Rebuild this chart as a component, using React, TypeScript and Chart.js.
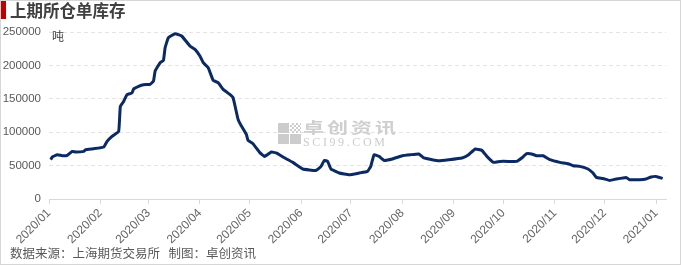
import React, { useEffect, useRef } from "react";
import { Chart, registerables } from "chart.js";

Chart.register(...registerables);

// Trading dates
const dates = [
  "2020-01-02", "2020-01-03", "2020-01-06", "2020-01-09", "2020-01-12", "2020-01-15", "2020-01-17",
  "2020-01-22", "2020-01-23", "2020-01-28", "2020-02-03", "2020-02-05", "2020-02-08", "2020-02-12",
  "2020-02-13", "2020-02-15", "2020-02-17", "2020-02-20", "2020-02-21", "2020-02-24", "2020-02-27",
  "2020-03-02", "2020-03-04", "2020-03-05", "2020-03-08", "2020-03-10", "2020-03-11", "2020-03-13",
  "2020-03-17", "2020-03-21", "2020-03-26", "2020-03-29", "2020-04-01", "2020-04-03", "2020-04-06",
  "2020-04-09", "2020-04-12", "2020-04-15", "2020-04-19", "2020-04-21", "2020-04-24", "2020-04-26",
  "2020-04-29", "2020-04-30", "2020-05-03", "2020-05-07", "2020-05-10", "2020-05-14", "2020-05-17",
  "2020-05-21", "2020-05-27", "2020-06-02", "2020-06-10", "2020-06-13", "2020-06-15", "2020-06-17",
  "2020-06-19", "2020-06-24", "2020-06-30", "2020-07-06", "2020-07-11", "2020-07-13", "2020-07-15",
  "2020-07-18", "2020-07-21", "2020-07-26", "2020-08-01", "2020-08-06", "2020-08-11", "2020-08-14",
  "2020-08-19", "2020-08-23", "2020-08-29", "2020-09-06", "2020-09-10", "2020-09-14", "2020-09-18",
  "2020-09-21", "2020-09-25", "2020-09-29", "2020-10-05", "2020-10-09", "2020-10-12", "2020-10-15",
  "2020-10-18", "2020-10-21", "2020-10-25", "2020-10-29", "2020-11-04", "2020-11-09", "2020-11-12",
  "2020-11-16", "2020-11-21", "2020-11-24", "2020-11-26", "2020-11-30", "2020-12-04", "2020-12-08",
  "2020-12-14", "2020-12-16", "2020-12-22", "2020-12-26", "2020-12-29", "2021-01-01", "2021-01-05",
];

// Warehouse receipt stock, tonnes
const stock = [
  59000, 62900, 66300, 64800, 65300, 71300, 70400,
  71300, 73800, 75300, 77800, 86200, 93700, 101200,
  138600, 146100, 156100, 158700, 164700, 168600, 171100,
  171600, 176600, 191600, 204000, 207500, 226500, 241500,
  247400, 244000, 229000, 224000, 214100, 204000, 196500,
  177500, 174100, 164100, 156600, 151600, 119200, 109300,
  96700, 87700, 82800, 69800, 63800, 70400, 68900,
  62900, 54800, 44900, 42800, 48800, 57800, 56300,
  44900, 38900, 36400, 38900, 41300, 48800, 66300,
  63800, 57800, 59900, 64800, 66300, 67400, 61400,
  58800, 57300, 58800, 61400, 66300, 74900, 72800,
  63800, 54800, 56300, 56300, 56300, 61400, 67800,
  67400, 64800, 64800, 58800, 54800, 52800, 49800,
  48800, 44900, 38900, 32300, 30800, 27800, 29900,
  32300, 28900, 28900, 29900, 32900, 33800, 30800,
];

const xTickLabels = [
  "2020/01", "2020/02", "2020/03", "2020/04", "2020/05", "2020/06", "2020/07",
  "2020/08", "2020/09", "2020/10", "2020/11", "2020/12", "2021/01",
];

const yTicks = [0, 50000, 100000, 150000, 200000, 250000];

const title = "上期所仓单库存";
const unit = "吨";
const footer = "数据来源：上海期货交易所   制图：卓创资讯";
const watermarkCn = "卓创资讯";
const watermarkEn = "SCI99.COM";

const BASE = Date.UTC(2020, 0, 1);
const dayOf = (s: string) => {
  const [y, m, d] = s.split(/[-/]/).map(Number);
  return (Date.UTC(y, m - 1, d || 1) - BASE) / 86400000;
};

export default function App() {
  const ref = useRef<HTMLCanvasElement | null>(null);

  useEffect(() => {
    document.body.style.margin = "0";
    const canvas = ref.current;
    if (!canvas) return;
    const tickDays = xTickLabels.map(dayOf);
    const labelFor: Record<number, string> = {};
    tickDays.forEach((d, i) => (labelFor[d] = xTickLabels[i]));
    const points = dates.map((d, i) => ({ x: dayOf(d), y: stock[i] }));

    const chart = new Chart(canvas, {
      type: "line",
      data: {
        datasets: [
          {
            data: points,
            borderColor: "#0b2a64",
            borderWidth: 3,
            pointRadius: 0,
            tension: 0.1,
            fill: false,
          },
        ],
      },
      options: {
        animation: false,
        responsive: false,
        parsing: false,
        layout: { padding: { top: 32, right: 15, left: 0, bottom: 0 } },
        plugins: {
          legend: { display: false },
          tooltip: { enabled: false },
          title: { display: false },
        },
        scales: {
          x: {
            type: "linear",
            min: 0,
            max: 372,
            afterFit: (s: any) => {
              s.height = 66;
            },
            afterBuildTicks: (s: any) => {
              s.ticks = tickDays.map((v) => ({ value: v }));
            },
            grid: {
              drawOnChartArea: false,
              drawTicks: true,
              tickLength: 5,
              color: "#d9d9d9",
            },
            border: { display: true, color: "#d9d9d9", width: 1 },
            ticks: {
              autoSkip: false,
              minRotation: 45,
              maxRotation: 45,
              padding: 2,
              color: "#666666",
              font: { family: "'Liberation Sans', Arial", size: 12 },
              callback: (v: any) => labelFor[v as number] ?? "",
            },
          },
          y: {
            min: 0,
            max: 250000,
            afterFit: (s: any) => {
              s.width = 49;
            },
            afterBuildTicks: (s: any) => {
              s.ticks = yTicks.map((v) => ({ value: v }));
            },
            grid: { drawTicks: false, color: "#e4e4e4", lineWidth: 1 },
            border: { display: false, dash: [4, 3] },
            ticks: {
              padding: 8,
              color: "#595959",
              font: { family: "'Liberation Sans', Arial", size: 11.5 },
              callback: (v: any) => String(v),
            },
          },
        },
      },
    });
    return () => chart.destroy();
  }, []);

  const sq = (left: number, top: number, bg: string) => (
    <div
      style={{ position: "absolute", left, top, width: 11, height: 10, background: bg }}
    />
  );

  return (
    <div
      style={{
        position: "relative",
        width: 681,
        height: 265,
        background: "#ffffff",
        overflow: "hidden",
        fontFamily: "'Noto Sans CJK SC', sans-serif",
      }}
    >
      <canvas
        ref={ref}
        width={681}
        height={265}
        style={{ position: "absolute", left: 0, top: 0, width: 681, height: 265 }}
      />
      <div
        style={{
          position: "absolute",
          left: 0,
          top: 0,
          width: 681,
          height: 265,
          boxSizing: "border-box",
          border: "1px solid #d6d6d6",
          pointerEvents: "none",
        }}
      />
      <div
        style={{ position: "absolute", left: 1, top: 1, width: 5, height: 18, background: "#c00000" }}
      />
      <div
        style={{
          position: "absolute",
          left: 10,
          top: -2,
          fontSize: 16.5,
          fontWeight: 700,
          color: "#404040",
          lineHeight: "24px",
          whiteSpace: "nowrap",
        }}
      >
        {title}
      </div>
      <div
        style={{
          position: "absolute",
          left: 52,
          top: 28,
          fontSize: 12,
          color: "#404040",
          lineHeight: "16px",
        }}
      >
        {unit}
      </div>
      <div
        style={{
          position: "absolute",
          left: 10,
          top: 244,
          fontSize: 12.5,
          color: "#595959",
          lineHeight: "18px",
          whiteSpace: "pre",
        }}
      >
        {footer}
      </div>
      {/* watermark */}
      <div style={{ position: "absolute", left: 0, top: 0, pointerEvents: "none" }}>
        {sq(278, 123, "#cccccc")}
        <div
          style={{
            position: "absolute",
            left: 290,
            top: 123,
            width: 11,
            height: 10,
            backgroundImage:
              "repeating-conic-gradient(#cccccc 0% 25%, #ffffff 0% 50%)",
            backgroundSize: "4px 4px",
          }}
        />
        {sq(278, 134, "#cccccc")}
        {sq(290, 134, "#cccccc")}
        <div
          style={{
            position: "absolute",
            left: 303,
            top: 119,
            fontSize: 21,
            fontWeight: 700,
            color: "#cfcfcf",
            lineHeight: "22px",
            letterSpacing: 3,
            whiteSpace: "nowrap",
            transform: "scaleY(0.72)",
            transformOrigin: "top left",
          }}
        >
          {watermarkCn}
        </div>
        <div
          style={{
            position: "absolute",
            left: 303,
            top: 136,
            fontSize: 12,
            fontFamily: "'Liberation Serif', serif",
            color: "#cccccc",
            lineHeight: "12px",
            letterSpacing: 2.6,
            whiteSpace: "nowrap",
          }}
        >
          {watermarkEn}
        </div>
      </div>
    </div>
  );
}
